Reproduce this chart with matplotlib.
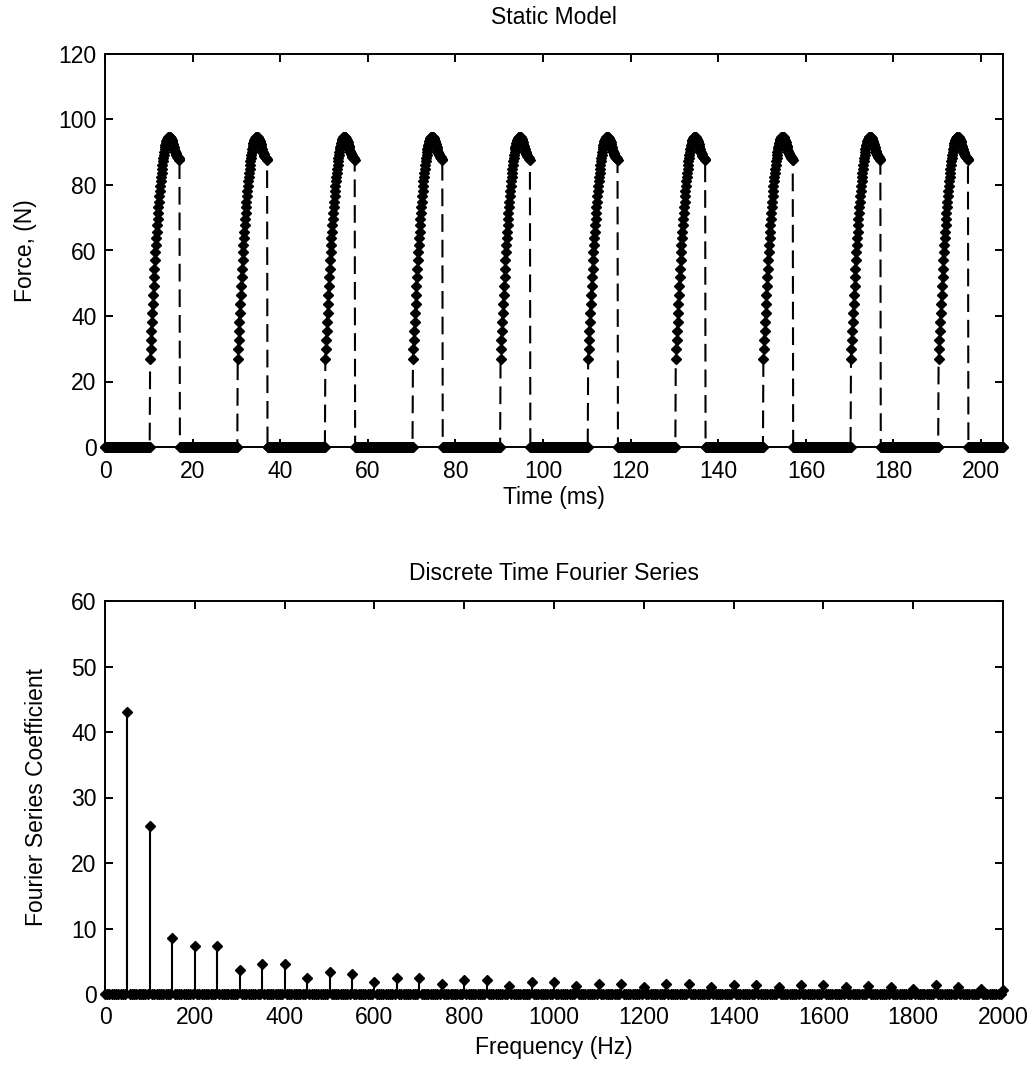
import numpy as np
import matplotlib
matplotlib.use("Agg")
import matplotlib.pyplot as plt

plt.rcParams['font.family'] = ['Liberation Sans', 'DejaVu Sans']

# ---------------- data: top plot (Static Model) ----------------
dt_ms = 0.1
t_end_ms = 205.0
period_starts_ms = [10.3, 30.3, 50.3, 70.3, 90.3, 110.3, 130.3, 150.3, 170.3, 190.3]
# force samples of one pulse, every 0.1 ms from pulse start (N)
pulse_force = [27.0, 29.8, 32.6, 35.4, 38.2, 41.0, 43.8, 46.5, 49.2, 51.8,
               54.4, 57.0, 59.4, 61.6, 63.7, 65.7, 67.7, 69.6, 71.4, 73.2,
               74.9, 76.6, 78.2, 79.7, 81.1, 82.5, 83.8, 85.0, 86.2, 87.3,
               88.3, 89.3, 90.2, 91.0, 91.7, 92.3, 92.9, 93.4, 93.8, 94.1,
               94.4, 94.6, 94.7, 94.8, 94.8, 94.7, 94.6, 94.4, 94.1, 93.8,
               93.4, 93.0, 92.5, 92.0, 91.5, 91.0, 90.5, 90.1, 89.7, 89.4,
               89.1, 88.9, 88.7, 88.5, 88.3, 88.1, 87.9, 87.7]

# ---------------- data: bottom plot (Fourier series) ----------------
df_hz = 5
f_max_hz = 2000
harmonic_freqs = [50, 100, 150, 200, 250, 300, 350, 400, 450, 500,
                  550, 600, 650, 700, 750, 800, 850, 900, 950, 1000,
                  1050, 1100, 1150, 1200, 1250, 1300, 1350, 1400, 1450, 1500,
                  1550, 1600, 1650, 1700, 1750, 1800, 1850, 1900, 1950, 2000]
harmonic_coeffs = [43.0, 25.6, 8.6, 7.3, 7.3, 3.7, 4.6, 4.6, 2.4, 3.3,
                   3.0, 1.8, 2.4, 2.4, 1.5, 2.1, 2.1, 1.2, 1.8, 1.8,
                   1.2, 1.6, 1.6, 1.0, 1.6, 1.6, 1.0, 1.3, 1.3, 1.0,
                   1.3, 1.3, 1.0, 1.2, 1.0, 0.8, 1.3, 1.0, 0.7, 0.6]

# build series
n_t = int(round(t_end_ms / dt_ms)) + 1
time = np.round(np.arange(n_t) * dt_ms, 1)
force = np.zeros(n_t)
for s in period_starts_ms:
    i0 = int(round(s / dt_ms))
    force[i0:i0 + len(pulse_force)] = pulse_force

freq = np.arange(0, f_max_hz + df_hz, df_hz)
coeff = np.zeros(len(freq))
for f, c in zip(harmonic_freqs, harmonic_coeffs):
    coeff[int(f // df_hz)] = c

# ---------------- figure ----------------
fig = plt.figure(figsize=(10.33, 10.67), dpi=100)
ax1 = fig.add_axes([105/1033, 1-447/1067, 898/1033, 393/1067])
ax2 = fig.add_axes([105/1033, 1-994/1067, 898/1033, 393/1067])

FS = 16.5

def style(ax):
    for sp in ax.spines.values():
        sp.set_linewidth(1.4)
        sp.set_zorder(5)
    ax.tick_params(direction='in', length=6, width=1.4, top=True, right=True,
                   labelsize=FS, pad=6)
    ax.tick_params(axis='x', pad=9)

# top
ln, = ax1.plot(time, force, color='black', lw=1.5, linestyle=(0, (8.5, 3.8)),
               marker='D', markersize=5.4, markerfacecolor='black',
               markeredgecolor='black', markeredgewidth=1.0)
ln.set_clip_on(False)
ax1.set_xlim(0, 205)
ax1.set_ylim(0, 120)
ax1.set_xticks(np.arange(0, 201, 20))
ax1.set_yticks(np.arange(0, 121, 20))
style(ax1)
ax1.set_xlabel('Time (ms)', fontsize=FS)
ax1.set_ylabel('Force, (N)', fontsize=FS)
ax1.xaxis.set_label_coords(0.5, -0.10)
ax1.yaxis.set_label_coords(-0.076, 0.5)
ax1.text(0.5, 1.092, 'Static Model', transform=ax1.transAxes,
         ha='center', va='center', fontsize=FS)

# bottom
ml, sl, bl = ax2.stem(freq, coeff, linefmt='k-', markerfmt='kD', basefmt='k-')
ml.set_markersize(5.0)
ml.set_markeredgewidth(1.0)
ml.set_clip_on(False)
sl.set_linewidth(1.5)
bl.set_linewidth(1.5)
ax2.set_xlim(0, 2000)
ax2.set_ylim(0, 60)
ax2.set_xticks(np.arange(0, 2001, 200))
ax2.set_yticks(np.arange(0, 61, 10))
style(ax2)
ax2.set_xlabel('Frequency (Hz)', fontsize=FS)
ax2.set_ylabel('Fourier Series Coefficient', fontsize=FS)
ax2.xaxis.set_label_coords(0.5, -0.106)
ax2.yaxis.set_label_coords(-0.064, 0.5)
ax2.text(0.5, 1.069, 'Discrete Time Fourier Series', transform=ax2.transAxes,
         ha='center', va='center', fontsize=FS)

fig.savefig('out.png', dpi=100)
